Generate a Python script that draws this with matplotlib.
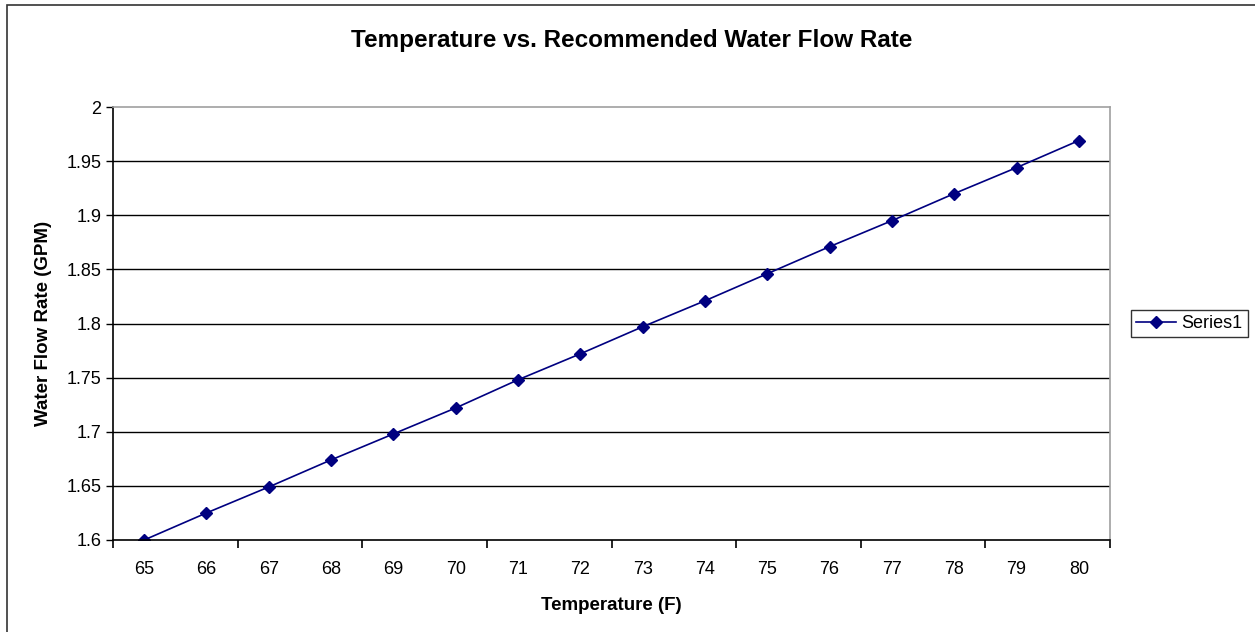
import matplotlib
matplotlib.use('Agg')
import matplotlib.pyplot as plt
from matplotlib.patches import Rectangle

temps = [65, 66, 67, 68, 69, 70, 71, 72, 73, 74, 75, 76, 77, 78, 79, 80]
flow = [1.600, 1.625, 1.649, 1.674, 1.698, 1.722, 1.748, 1.772,
        1.797, 1.821, 1.846, 1.871, 1.895, 1.920, 1.944, 1.969]
yticks = [1.6, 1.65, 1.7, 1.75, 1.8, 1.85, 1.9, 1.95, 2]
ylabels = ['1.6', '1.65', '1.7', '1.75', '1.8', '1.85', '1.9', '1.95', '2']

plt.rcParams['font.family'] = ['Liberation Sans', 'DejaVu Sans']

fig = plt.figure(figsize=(12.55, 6.32), dpi=100)
# outer chart border (runs off the right and bottom edges)
fig.patches.append(Rectangle((7 / 1255, -0.1), 1.2, 627 / 632 + 0.1,
                             transform=fig.transFigure, fill=False,
                             edgecolor='#333333', linewidth=1.2))
ax = fig.add_axes([113 / 1255, 92 / 632, 997 / 1255, 433 / 632])

pos = list(range(len(temps)))
ax.plot(pos, flow, color='#000080', linewidth=1.2, marker='D', markersize=6,
        markerfacecolor='#000080', markeredgecolor='#000080', label='Series1')

ax.set_xlim(-0.5, len(temps) - 0.5)
ax.set_ylim(1.6, 2.0)
ax.set_yticks(yticks)
ax.set_yticklabels(ylabels, fontsize=13)
for y in yticks[1:-1]:
    ax.axhline(y, color='black', linewidth=1.0, zorder=0)

ax.set_xticks(pos)
ax.set_xticklabels([str(t) for t in temps], fontsize=13)
ax.tick_params(axis='x', which='major', length=0, pad=15)
ax.set_xticks([p - 0.5 for p in pos[::2]] + [len(temps) - 0.5], minor=True)
ax.tick_params(axis='x', which='minor', length=6, direction='out', width=1.2)
ax.tick_params(axis='y', length=5, width=1.0, direction='out')

ax.spines['left'].set_color('black')
ax.spines['bottom'].set_color('black')
ax.spines['top'].set_color('#a0a0a0')
ax.spines['right'].set_color('#a0a0a0')
for s in ax.spines.values():
    s.set_linewidth(1.2)

fig.text(632 / 1255, 1 - 40 / 632, 'Temperature vs. Recommended Water Flow Rate',
         fontsize=17.5, fontweight='bold', ha='center', va='center')
ax.set_xlabel('Temperature (F)', fontsize=13.5, fontweight='bold', labelpad=14)
ax.set_ylabel('Water Flow Rate (GPM)', fontsize=13.5, fontweight='bold', labelpad=10)

leg = ax.legend(loc='center left', bbox_to_anchor=(1.012, 0.5), fontsize=13,
                frameon=True, fancybox=False, edgecolor='black',
                handlelength=2.2, borderpad=0.3, handletextpad=0.3)
leg.get_frame().set_linewidth(1.0)

fig.savefig('out.png', dpi=100)
